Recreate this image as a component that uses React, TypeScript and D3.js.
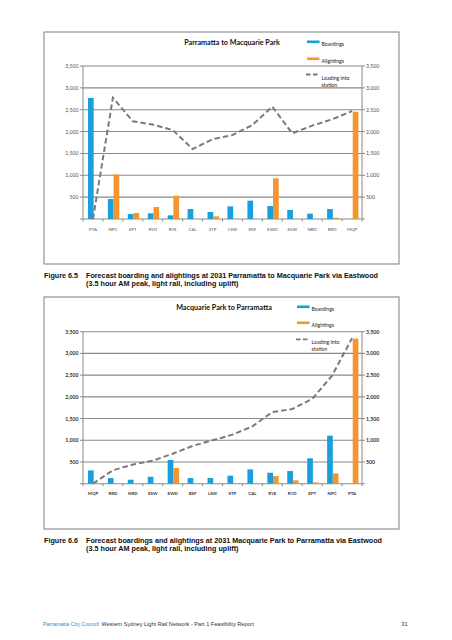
import React from "react";
import * as d3 from "d3";

const cats1 = ["PTA", "NPC", "EPT", "RYD", "RYE", "CAL", "STP", "LSW", "BSF", "EWD", "ESW", "NRD", "RRD", "MQP"];
const board1 = [2770, 457, 114, 130, 84, 229, 160, 290, 419, 297, 206, 122, 229, 0];
const alight1 = [0, 1020, 137, 274, 533, 0, 61, 0, 0, 930, 0, 0, 30, 2455];
const load1 = [0, 2775, 2235, 2160, 2035, 1600, 1825, 1920, 2150, 2570, 1960, 2135, 2280, 2470];

const cats2 = ["MQP", "RRD", "NRD", "ESW", "EWD", "BSF", "LSW", "STP", "CAL", "RYE", "RYD", "EPT", "NPC", "PTA"];
const board2 = [307, 130, 92, 161, 545, 130, 130, 184, 330, 253, 292, 584, 1106, 0];
const alight2 = [0, 0, 0, 0, 361, 0, 0, 0, 0, 177, 77, 30, 238, 3341];
const load2 = [0, 310, 440, 530, 690, 870, 1000, 1130, 1320, 1650, 1720, 1950, 2490, 3350];

const yTicks = [500, 1000, 1500, 2000, 2500, 3000, 3500];

const BLUE = "#19a0dc";
const ORANGE = "#f5952f";
const GRID = "#8a8a8a";
const LINE = "#7a7a7a";
const CHART_FONT = "Lato, 'Open Sans', sans-serif";
const ARIAL = "'Liberation Sans', Arial, sans-serif";

type ChartProps = {
  boxTop: number;
  boxBottom: number;
  plotTop: number;
  plotBottom: number;
  title: string;
  titleX: number;
  titleY: number;
  legendX: number;
  legendY: [number, number, number];
  cats: string[];
  board: number[];
  alight: number[];
  load: number[];
  boldTicks: boolean;
};

function Chart(p: ChartProps) {
  const left = 83;
  const right = 362;
  const x = d3.scaleBand<string>().domain(p.cats).range([left, right]).padding(0);
  const y = d3.scaleLinear().domain([0, 3500]).range([p.plotBottom, p.plotTop]);
  const sub = d3.scaleBand<string>().domain(["b", "a"]).range([0, 11.4]);
  const center = (c: string) => (x(c) as number) + x.bandwidth() / 2;
  const line = d3
    .line<number>()
    .x((_, i) => center(p.cats[i]))
    .y((v) => y(v));
  const tickW = p.boldTicks ? 700 : 400;
  const tickFill = p.boldTicks ? "#333" : "#555";
  const boundaries = d3.range(p.cats.length + 1).map((i) => left + i * x.step());
  return (
    <g>
      <rect x={44} y={p.boxTop} width={355} height={p.boxBottom - p.boxTop} fill="#fff" stroke="#7f7f7f" strokeWidth={1} />
      <text x={p.titleX} y={p.titleY} textAnchor="middle" dominantBaseline="central" fontFamily={CHART_FONT} fontWeight={700} fontSize={7.2} fill="#111">
        {p.title}
      </text>
      {/* legend */}
      <rect x={p.legendX} y={p.legendY[0] - 3.5} width={12.5} height={2.6} fill={BLUE} />
      <text x={p.legendX + 14.5} y={p.legendY[0]} dominantBaseline="central" fontFamily={CHART_FONT} fontSize={5.2} fill="#222">Boardings</text>
      <rect x={p.legendX} y={p.legendY[1] - 3.5} width={12.5} height={2.6} fill={ORANGE} />
      <text x={p.legendX + 14.5} y={p.legendY[1]} dominantBaseline="central" fontFamily={CHART_FONT} fontSize={5.2} fill="#222">Alightings</text>
      <line x1={p.legendX - 1} x2={p.legendX + 11.5} y1={p.legendY[2] - 3} y2={p.legendY[2] - 3} stroke={LINE} strokeWidth={1.8} strokeDasharray="4.5 2.5" />
      <text x={p.legendX + 14.5} y={p.legendY[2]} dominantBaseline="central" fontFamily={CHART_FONT} fontSize={5.2} fill="#222">Loading into</text>
      <text x={p.legendX + 14.5} y={p.legendY[2] + 7} dominantBaseline="central" fontFamily={CHART_FONT} fontSize={5.2} fill="#222">station</text>
      {/* gridlines */}
      {yTicks.map((t) => (
        <line key={t} x1={left} x2={right} y1={y(t)} y2={y(t)} stroke={GRID} strokeWidth={1.1} />
      ))}
      {/* axes */}
      <line x1={left} x2={left} y1={y(3500)} y2={y(0)} stroke={GRID} strokeWidth={1} />
      <line x1={right} x2={right} y1={y(3500)} y2={y(0)} stroke={GRID} strokeWidth={1} />
      <line x1={left} x2={right} y1={y(0)} y2={y(0)} stroke={GRID} strokeWidth={1.1} />
      {[0, ...yTicks].map((t) => (
        <g key={"t" + t}>
          <line x1={left - 3} x2={left} y1={y(t)} y2={y(t)} stroke={GRID} strokeWidth={1} />
          <line x1={right} x2={right + 3} y1={y(t)} y2={y(t)} stroke={GRID} strokeWidth={1} />
        </g>
      ))}
      {boundaries.map((bx, i) => (
        <line key={"b" + i} x1={bx} x2={bx} y1={y(0)} y2={y(0) + 2.5} stroke={GRID} strokeWidth={1} />
      ))}
      {yTicks.map((t) => (
        <g key={"l" + t}>
          <text x={78.5} y={y(t)} textAnchor="end" dominantBaseline="central" fontFamily={CHART_FONT} fontSize={5.2} fontWeight={tickW} fill={tickFill}>
            {d3.format(",")(t)}
          </text>
          <text x={366} y={y(t)} textAnchor="start" dominantBaseline="central" fontFamily={CHART_FONT} fontSize={5.2} fontWeight={tickW} fill={tickFill}>
            {d3.format(",")(t)}
          </text>
        </g>
      ))}
      {/* bars */}
      {p.cats.map((c, i) => {
        const x0 = center(c) - 5;
        return (
          <g key={c}>
            {p.board[i] > 0 && (
              <rect x={x0 + (sub("b") as number)} y={y(p.board[i])} width={sub.bandwidth()} height={y(0) - y(p.board[i])} fill={BLUE} />
            )}
            {p.alight[i] > 0 && (
              <rect x={x0 + (sub("a") as number)} y={y(p.alight[i])} width={sub.bandwidth()} height={y(0) - y(p.alight[i])} fill={ORANGE} />
            )}
          </g>
        );
      })}
      <path d={line(p.load) || ""} fill="none" stroke={LINE} strokeWidth={2} strokeDasharray="5.5 3" />
      {/* x labels */}
      {p.cats.map((c) => (
        <text key={"x" + c} x={center(c)} y={p.plotBottom + 10} textAnchor="middle" dominantBaseline="central" fontFamily={CHART_FONT} fontSize={4.4} fontWeight={tickW} fill={tickFill}>
          {c}
        </text>
      ))}
    </g>
  );
}

function Caption({ y, fig, line1, line2, w1 }: { y: number; fig: string; line1: string; line2: string; w1: number }) {
  return (
    <g fontFamily={ARIAL} fontWeight={700} fontSize={6.8} fill="#111">
      <text x={44} y={y} dominantBaseline="central" textLength={34} lengthAdjust="spacingAndGlyphs">{fig}</text>
      <text x={86} y={y} dominantBaseline="central" textLength={w1} lengthAdjust="spacingAndGlyphs">{line1}</text>
      <text x={86} y={y + 8.3} dominantBaseline="central" textLength={152.5} lengthAdjust="spacingAndGlyphs">{line2}</text>
    </g>
  );
}

export default function App() {
  return (
    <svg width={452} height={640} style={{ position: "absolute", left: 0, top: 0, background: "#fff" }}>
      <rect width={452} height={640} fill="#fff" />
      <Chart
        boxTop={32}
        boxBottom={264}
        plotTop={66}
        plotBottom={219}
        title="Parramatta to Macquarie Park"
        titleX={232}
        titleY={42.7}
        legendX={307}
        legendY={[44, 61, 77.5]}
        cats={cats1}
        board={board1}
        alight={alight1}
        load={load1}
        boldTicks={false}
      />
      <Chart
        boxTop={297}
        boxBottom={529}
        plotTop={331.7}
        plotBottom={483.7}
        title="Macquarie Park to Parramatta"
        titleX={224}
        titleY={307.3}
        legendX={297}
        legendY={[309, 325, 342.3]}
        cats={cats2}
        board={board2}
        alight={alight2}
        load={load2}
        boldTicks={true}
      />
      <Caption
        y={275}
        fig="Figure 6.5"
        line1="Forecast boarding and alightings at 2031 Parramatta to Macquarie Park via Eastwood"
        line2="(3.5 hour AM peak, light rail, including uplift)"
        w1={292}
      />
      <Caption
        y={540}
        fig="Figure 6.6"
        line1="Forecast boardings and alightings at 2031 Macquarie Park to Parramatta via Eastwood"
        line2="(3.5 hour AM peak, light rail, including uplift)"
        w1={296}
      />
      <text x={43} y={623.7} dominantBaseline="central" fontFamily={ARIAL} fontSize={5.6} fill="#3a86c8" textLength={56} lengthAdjust="spacingAndGlyphs">Parramatta City Council</text>
      <text x={101.5} y={623.7} dominantBaseline="central" fontFamily={ARIAL} fontSize={5.6} fill="#333">Western Sydney Light Rail Network - Part 1 Feasibility Report</text>
      <text x={407.5} y={623.7} textAnchor="end" dominantBaseline="central" fontFamily={ARIAL} fontSize={5.6} fill="#333">31</text>
    </svg>
  );
}
